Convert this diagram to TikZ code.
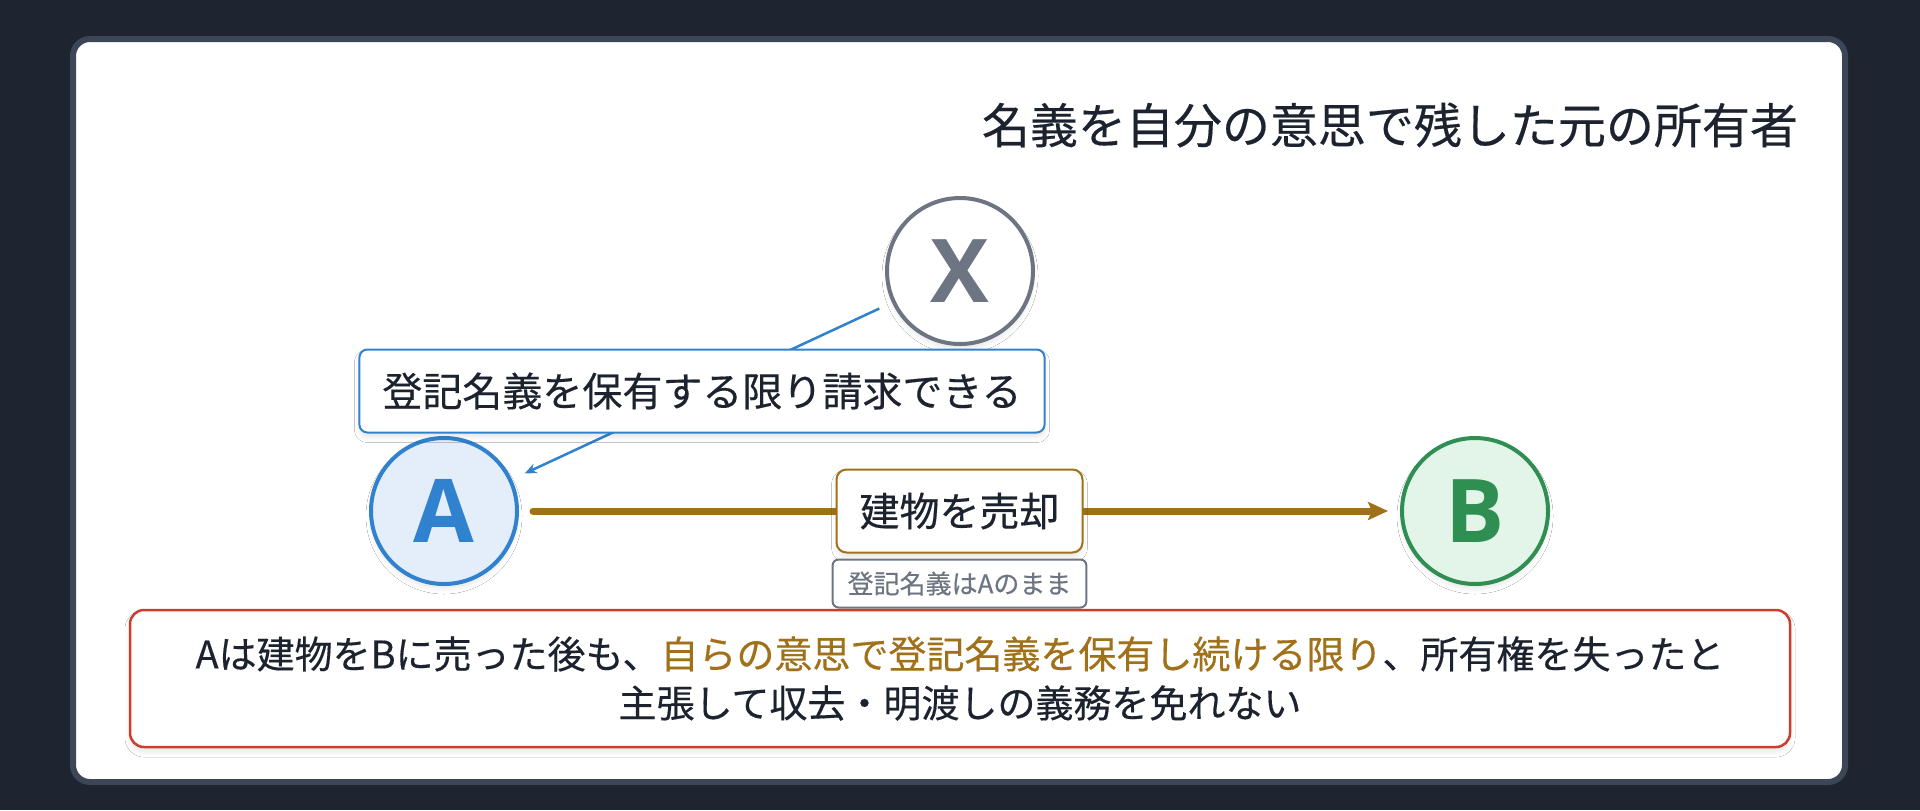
\documentclass[tikz,border=0pt]{standalone}
\usepackage{fontspec}
\setmainfont{Noto Sans CJK JP}[FakeBold=0.35]
\newfontfamily\partyfont{Open Sans}
\usepackage{tikz}
\usetikzlibrary{arrows.meta, positioning, shadows.blur}

\definecolor{bgdark}{RGB}{30, 36, 48}
\definecolor{cardedge}{RGB}{61, 70, 86}
\definecolor{inkdark}{RGB}{28, 34, 46}
\definecolor{buyerblue}{RGB}{49, 130, 206}
\definecolor{bluefill}{RGB}{227, 238, 250}
\definecolor{buyergreen}{RGB}{47, 142, 82}
\definecolor{greenfill}{RGB}{226, 245, 232}
\definecolor{salegold}{RGB}{160, 113, 24}
\definecolor{warnred}{RGB}{204, 62, 44}
\definecolor{notegray}{RGB}{108, 117, 129}

\begin{document}
\begin{tikzpicture}[x=0.5pt, y=-0.5pt,
  softshadow/.style={blur shadow={shadow xshift=0pt, shadow yshift=-2.5pt, shadow blur radius=2.5pt, shadow opacity=9}},
  party/.style={circle, line width=2pt, minimum size=73pt, inner sep=0pt, font=\partyfont\bfseries\fontsize{44}{44}\selectfont, softshadow},
  tagbox/.style={draw, fill=white, line width=1pt, text=inkdark, inner xsep=11.5pt, minimum height=41.5pt, font=\fontsize{20}{24}\selectfont, softshadow}
]
  % background and card
  \fill[bgdark] (0,0) rectangle (1920,810);
  \useasboundingbox (0,0) rectangle (1920,810);
  \draw[cardedge, fill=white, line width=3pt, rounded corners=8.5pt] (73,39) rectangle (1845,782);

  % title
  \node[anchor=east, text=inkdark, font=\fontsize{24}{28}\selectfont] (title) at (1805,125) {名義を自分の意思で残した元の所有者};

  % parties
  \node[party, draw=notegray, fill=white, text=notegray] (X) at (960,271) {X};
  \node[party, draw=buyerblue, fill=bluefill, text=buyerblue] (A) at (444,511) {A};
  \node[party, draw=buyergreen, fill=greenfill, text=buyergreen] (B) at (1475,511) {B};

  % claim of X against A
  \draw[buyerblue, line width=1.25pt, -{Stealth[length=6pt, width=5pt]}, shorten <=7pt, shorten >=7pt] (X) -- node[tagbox, draw=buyerblue, rounded corners=4pt] (claim) {登記名義を保有する限り請求できる} (A);

  % sale A -> B
  \draw[salegold, line width=3.5pt, line cap=round, -{Stealth[length=10pt, width=9pt, inset=2pt]}, shorten <=7pt, shorten >=6pt] (A) -- node[tagbox, draw=salegold, rounded corners=5pt] (sale) {建物を売却} (B);
  \node[draw=notegray, fill=white, line width=1pt, rounded corners=3pt, text=notegray, inner xsep=7.5pt, minimum height=24pt, font=\fontsize{13}{15}\selectfont, below=2.5pt of sale] (note) {登記名義はAのまま};

  % conclusion
  \node[draw=warnred, fill=white, line width=1.25pt, rounded corners=7pt, minimum width=830pt, minimum height=68.5pt, align=center, text=inkdark, font=\fontsize{19}{24.5}\selectfont, softshadow] (summary) at (960,678.5) {
    Aは建物をBに売った後も、\textcolor{salegold}{自らの意思で登記名義を保有し続ける限り}、所有権を失ったと\\
    主張して収去・明渡しの義務を免れない
  };
\end{tikzpicture}
\end{document}
